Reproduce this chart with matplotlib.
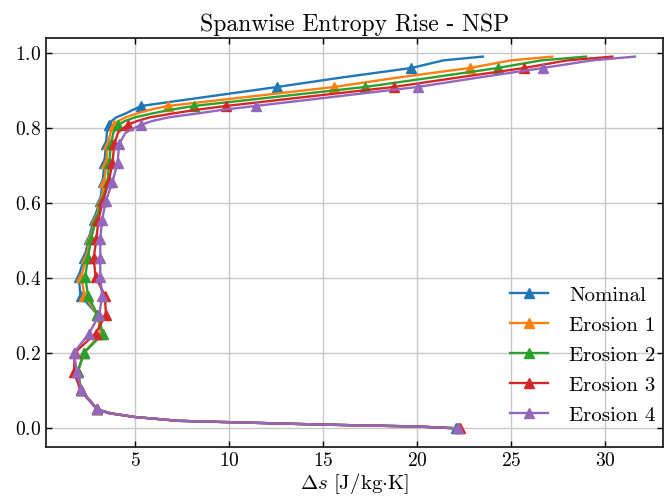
import matplotlib
matplotlib.use("Agg")
import matplotlib.pyplot as plt

plt.rcParams['font.family'] = ['cmr10', 'DejaVu Serif']
plt.rcParams['mathtext.fontset'] = 'cm'
plt.rcParams['axes.formatter.use_mathtext'] = True

span = [0.0, 0.0051, 0.0101, 0.0202, 0.0303, 0.0404, 0.0505, 0.101, 0.1515, 0.202,
        0.2525, 0.303, 0.3535, 0.404, 0.4545, 0.505, 0.5556, 0.6061, 0.6566, 0.7071,
        0.7576, 0.7879, 0.8081, 0.8182, 0.8283, 0.8384, 0.8485, 0.8586, 0.9091, 0.9343,
        0.9596, 0.9798, 0.9899]

nominal = [22.1, 20.0, 15.0, 7.3, 5.0, 3.7, 3.0, 2.1, 1.95, 2.3, 3.2, 3.0, 2.1, 2.0,
           2.3, 2.55, 2.8, 3.15, 3.28, 3.37, 3.46, 3.5, 3.63, 3.75, 4.0, 4.5, 4.9, 5.34,
           12.57, 16.0, 19.7, 21.4, 23.5]
erosion1 = [22.2, 20.0, 15.0, 7.3, 5.0, 3.7, 3.0, 2.15, 1.95, 2.3, 3.2, 3.0, 2.3, 2.15,
            2.4, 2.62, 2.88, 3.2, 3.37, 3.47, 3.56, 3.7, 3.9, 4.1, 4.5, 5.1, 5.8, 6.77,
            15.6, 19.0, 22.8, 25.0, 27.2]
erosion2 = [22.2, 20.0, 15.0, 7.3, 5.0, 3.7, 3.0, 2.15, 1.95, 2.3, 3.3, 3.0, 2.5, 2.35,
            2.5, 2.66, 2.93, 3.25, 3.54, 3.63, 3.72, 3.85, 4.1, 4.45, 5.0, 5.9, 6.9, 8.15,
            17.25, 20.8, 24.3, 26.6, 29.0]
erosion3 = [22.3, 20.0, 15.0, 7.3, 5.0, 3.6, 3.0, 2.1, 1.75, 1.8, 2.9, 3.45, 3.4, 2.9,
            2.8, 2.95, 3.05, 3.3, 3.6, 3.8, 3.9, 4.1, 4.6, 5.1, 5.8, 7.0, 8.3, 9.86,
            18.76, 22.2, 25.7, 28.0, 30.4]
erosion4 = [22.2, 20.0, 15.0, 7.3, 5.0, 3.6, 3.0, 2.15, 1.9, 1.75, 2.55, 3.1, 3.25, 3.15,
            3.15, 3.15, 3.25, 3.45, 3.8, 4.07, 4.16, 4.5, 5.3, 5.9, 6.8, 8.3, 9.7, 11.43,
            20.04, 23.3, 26.7, 29.3, 31.6]

labels = ['Nominal', 'Erosion 1', 'Erosion 2', 'Erosion 3', 'Erosion 4']
series = [nominal, erosion1, erosion2, erosion3, erosion4]
colors = ['#1f77b4', '#ff7f0e', '#2ca02c', '#d62728', '#9467bd']
marker_idx = [0] + list(range(6, 21)) + [22, 27, 28, 30]

fig = plt.figure(figsize=(6.65, 4.97), dpi=100)
ax = fig.add_axes([0.069, 0.1006, 0.928, 0.8229])

for lab, xs, c in zip(labels, series, colors):
    ax.plot(xs, span, color=c, lw=1.7, marker='^', ms=7, markevery=marker_idx, label=lab)

ax.grid(True, color='#c8c8c8', lw=1.0)
ax.set_axisbelow(True)
ax.tick_params(direction='in', top=True, right=True, labelsize=14, length=4, width=1)
for s in ax.spines.values():
    s.set_linewidth(1.3)
    s.set_color('#222222')
ax.set_xticks([5, 10, 15, 20, 25, 30])
ax.set_yticks([0.0, 0.2, 0.4, 0.6, 0.8, 1.0])
ax.set_title('Spanwise Entropy Rise - NSP', fontsize=17, pad=5)
ax.set_xlabel(r'$\Delta s\ [\mathrm{J/kg{\cdot}K}]$', fontsize=15, labelpad=1)
ax.legend(loc='lower right', bbox_to_anchor=(1.008, 0.024), frameon=False, fontsize=15,
          handlelength=1.85, handletextpad=1.0, borderaxespad=0.2, labelspacing=0.55)

fig.savefig('out.png', dpi=100)
